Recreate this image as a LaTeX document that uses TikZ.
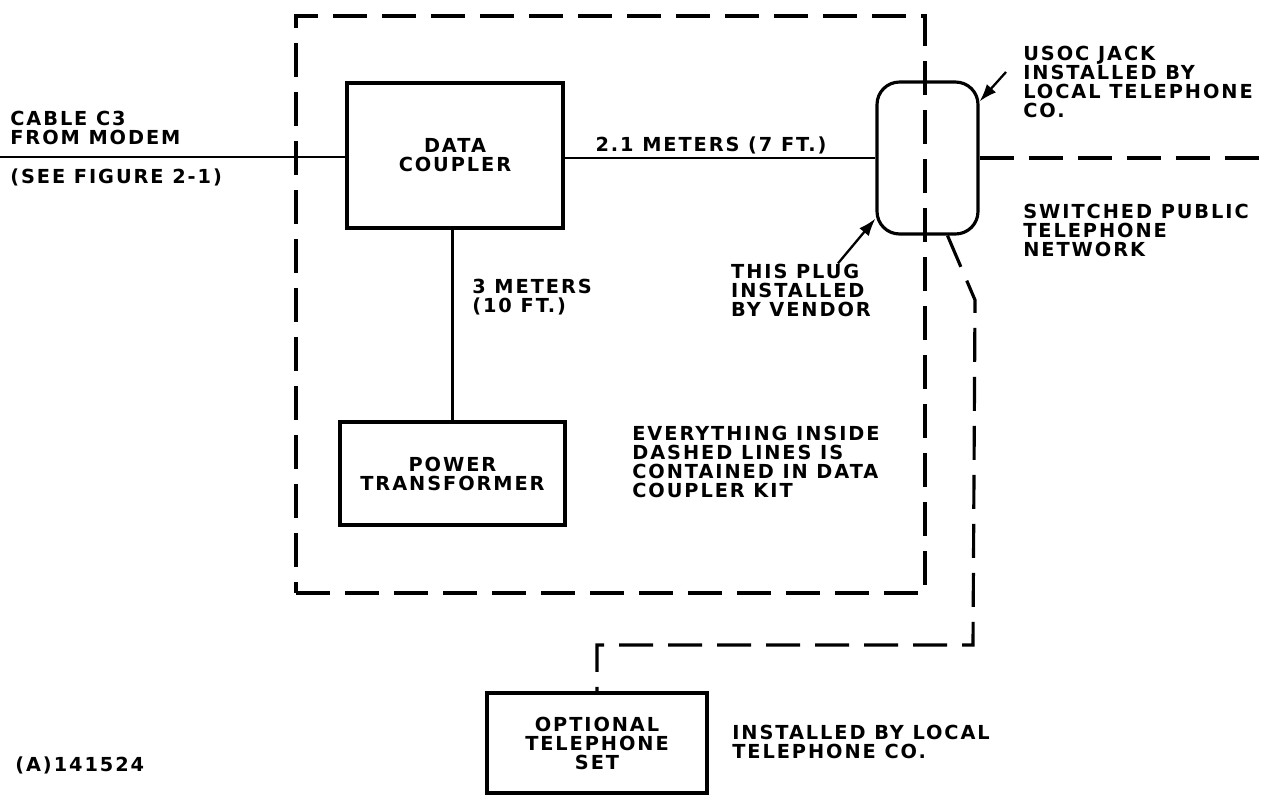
\documentclass[tikz,border=0pt]{standalone}
\usepackage{fontspec}
\newfontfamily\gothic{DejaVu Sans}[LetterSpace=10]
\usetikzlibrary{arrows.meta}

\tikzset{
  lbl/.style={font=\gothic\bfseries\fontsize{11}{10.8}\selectfont, align=left, inner sep=0pt},
  blk/.style={draw, line width=1.8pt, align=center, inner sep=0pt,
    font=\gothic\bfseries\fontsize{11}{10.8}\selectfont},
  wire/.style={line width=1.4pt},
  kitline/.style={line width=1.8pt, dash pattern=on 0.68cm off 0.3cm},
  callout/.style={line width=1.3pt, -{Latex[length=10pt,width=7pt]}}
}

\begin{document}
\begin{tikzpicture}[x=0.02cm, y=-0.02cm]
  \useasboundingbox (0,0) rectangle (1273,795);

  % kit boundary
  \node[draw, kitline, minimum width=12.58cm, minimum height=11.54cm] (kit) at (610.5,304.5) {};

  % blocks
  \node[blk, minimum width=4.32cm, minimum height=2.9cm] (coupler) at (455,155.5) {DATA\\COUPLER};
  \node[blk, minimum width=4.5cm, minimum height=2.06cm] (xfmr) at (452.5,473.5) {POWER\\TRANSFORMER};
  \node[blk, minimum width=4.4cm, minimum height=2cm] (phone) at (597,743) {OPTIONAL\\TELEPHONE\\SET};
  \node[draw, line width=1.8pt, rounded corners=0.45cm, minimum width=2.02cm, minimum height=3.04cm] (jack) at (927.5,158) {};

  % free ends
  \coordinate (modem) at (0,157);
  \coordinate (netend) at (1273,158);
  \coordinate (bend) at (975,300);
  \coordinate (corner) at (973,645);

  % cables
  \draw[wire] (modem) -- (modem -| coupler.west);
  \draw[wire] (coupler.east |- jack.west) -- (jack.west);
  \draw[wire] (coupler.south -| xfmr.north) -- (xfmr.north);
  \draw[kitline] (jack.east) -- (netend);
  \draw[kitline] ([xshift=0.4cm]jack.south) -- (bend) -- (corner) -- (corner -| phone.north) -- (phone.north);

  % labels
  \node[lbl, anchor=west] (cable) at (10,127.5) {CABLE C3\\FROM MODEM};
  \node[lbl, anchor=west] (see) at (10,177) {(SEE FIGURE 2-1)};
  \node[lbl] (len1) at (711,145) {2.1 METERS (7 FT.)};
  \node[lbl, anchor=west] (len2) at (472,297) {3 METERS\\(10 FT.)};
  \node[lbl, anchor=west] (usoc) at (1023,82) {USOC JACK\\INSTALLED BY\\LOCAL TELEPHONE\\CO.};
  \node[lbl, anchor=west] (pstn) at (1023,230) {SWITCHED PUBLIC\\TELEPHONE\\NETWORK};
  \node[lbl] (plug) at (801,290) {THIS PLUG\\INSTALLED\\BY VENDOR};
  \node[lbl, anchor=west] (note) at (632,462) {EVERYTHING INSIDE\\DASHED LINES IS\\CONTAINED IN DATA\\COUPLER KIT};
  \node[lbl, anchor=west] (telco) at (732,742) {INSTALLED BY LOCAL\\TELEPHONE CO.};
  \node[lbl, anchor=west] (figid) at (15,765) {(A)141524};

  % pointers
  \draw[callout] ([shift={(-17,-10)}]usoc.west) -- ([yshift=-0.42cm]jack.north east);
  \draw[callout] ([xshift=0.74cm]plug.north) -- ([yshift=0.34cm]jack.south west);
\end{tikzpicture}
\end{document}
